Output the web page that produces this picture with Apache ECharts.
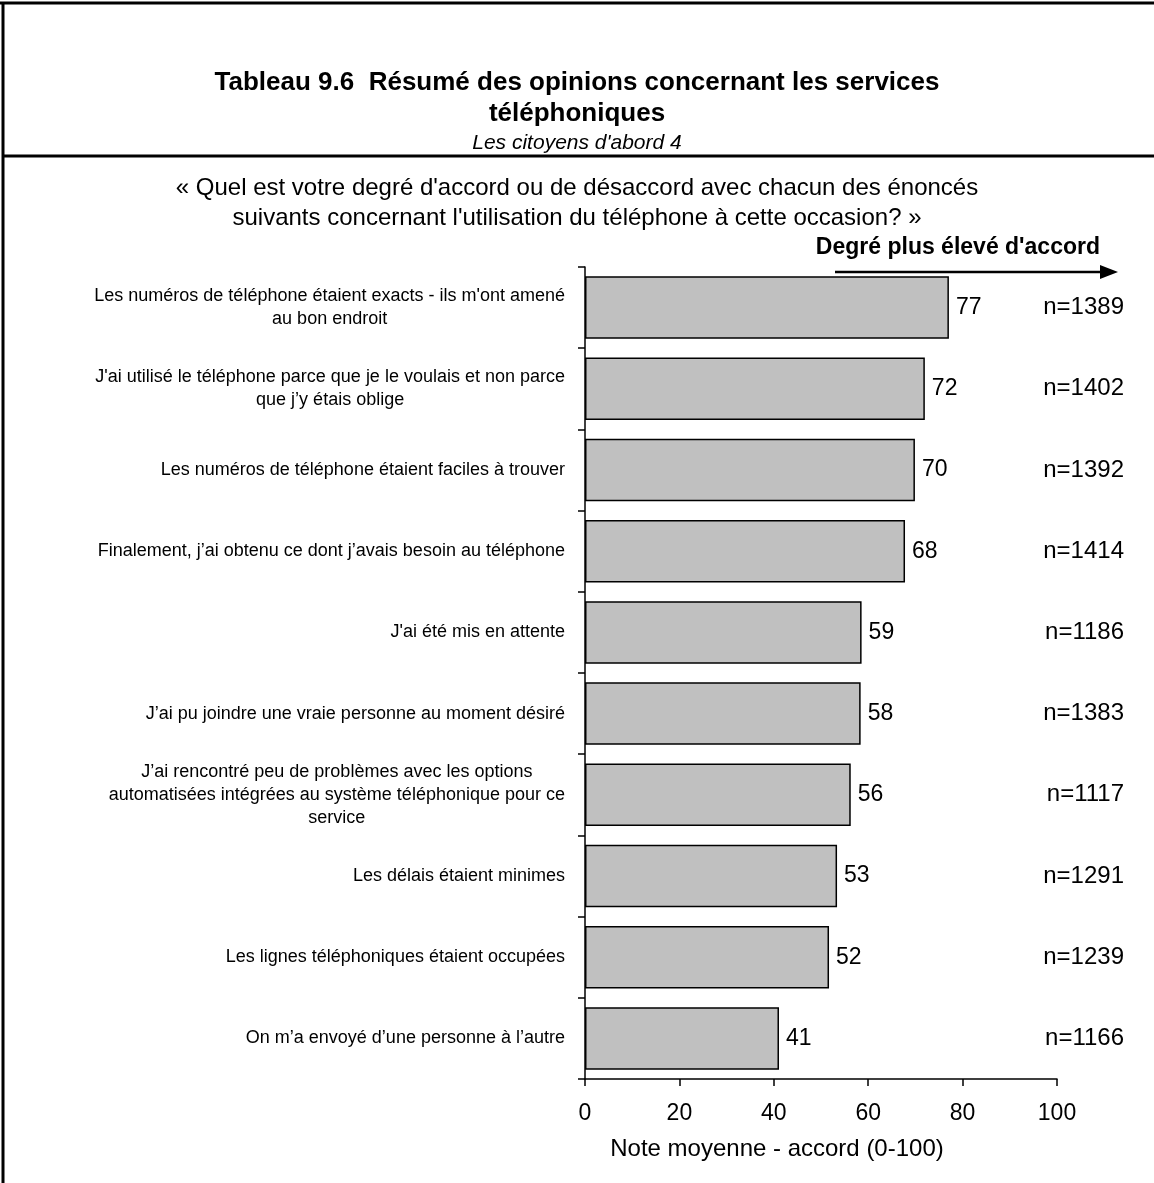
<!DOCTYPE html>
<html>
<head>
<meta charset="utf-8">
<script src="https://cdn.jsdelivr.net/npm/echarts@6/dist/echarts.min.js"></script>
<style>
html,body{margin:0;padding:0;background:#fff;}
#c{width:1154px;height:1183px;}
</style>
</head>
<body>
<div id="c"></div>
<script>
var categories = [
  "Les numéros de téléphone étaient exacts - ils m'ont amené\nau bon endroit",
  "J'ai utilisé le téléphone parce que je le voulais et non parce\nque j’y étais oblige",
  "Les numéros de téléphone étaient faciles à trouver",
  "Finalement, j’ai obtenu ce dont j’avais besoin au téléphone",
  "J'ai été mis en attente",
  "J’ai pu joindre une vraie personne au moment désiré",
  "J’ai rencontré peu de problèmes avec les options\nautomatisées intégrées au système téléphonique pour ce\nservice",
  "Les délais étaient minimes",
  "Les lignes téléphoniques étaient occupées",
  "On m’a envoyé d’une personne à l’autre"
];
var scores = [77.1, 72.0, 69.9, 67.8, 58.6, 58.4, 56.3, 53.4, 51.7, 41.1];
var nLabels = ["n=1389", "n=1402", "n=1392", "n=1414", "n=1186", "n=1383", "n=1117", "n=1291", "n=1239", "n=1166"];
var xTicks = [0, 20, 40, 60, 80, 100];

var FONT = "'Liberation Sans', Arial, sans-serif";
var chart = echarts.init(document.getElementById('c'), null, {renderer: 'canvas'});

var option = {
  backgroundColor: '#fff',
  textStyle: {fontFamily: FONT, color: '#000'},
  animation: false,
  title: [{
    text: 'Tableau 9.6  Résumé des opinions concernant les services\ntéléphoniques',
    left: 'center', top: 62,
    textStyle: {fontFamily: FONT, fontWeight: 'bold', fontSize: 26, lineHeight: 31, color: '#000'},
    subtext: "Les citoyens d'abord 4",
    subtextStyle: {fontFamily: FONT, fontStyle: 'italic', fontSize: 21, lineHeight: 24, color: '#000'},
    itemGap: 2
  }, {
    text: "« Quel est votre degré d'accord ou de désaccord avec chacun des énoncés\nsuivants concernant l'utilisation du téléphone à cette occasion? »",
    left: 'center', top: 168,
    textStyle: {fontFamily: FONT, fontWeight: 'normal', fontSize: 24, lineHeight: 30, color: '#000'}
  }],
  grid: {left: 585, right: 97, top: 267, bottom: 104, containLabel: false},
  xAxis: {
    type: 'value', min: xTicks[0], max: xTicks[xTicks.length - 1], interval: 20,
    axisLine: {show: true, lineStyle: {color: '#000', width: 1.5}},
    axisTick: {show: true, inside: false, length: 7, lineStyle: {color: '#000', width: 1.5}},
    splitLine: {show: false},
    axisLabel: {fontFamily: FONT, fontSize: 23, color: '#000', margin: 23},
    name: 'Note moyenne - accord (0-100)',
    nameLocation: 'middle', nameGap: 58,
    nameTextStyle: {fontFamily: FONT, fontSize: 24, color: '#000', padding: [0, 88, 0, 0]}
  },
  yAxis: [{
    type: 'category', inverse: true, data: categories,
    axisLine: {show: true, lineStyle: {color: '#000', width: 1.5}},
    axisTick: {show: true, inside: false, length: 7, lineStyle: {color: '#000', width: 1.5}},
    axisLabel: {
      margin: 20, color: '#000', fontFamily: FONT, fontSize: 18,
      formatter: function (v) {
        return v.split('\n').map(function (l) { return '{c|' + l + '}'; }).join('\n');
      },
      rich: {c: {align: 'center', fontFamily: FONT, fontSize: 18, lineHeight: 23, color: '#000'}}
    }
  }, {
    type: 'category', inverse: true, data: nLabels, position: 'right',
    axisLine: {show: false}, axisTick: {show: false},
    axisLabel: {align: 'right', margin: 67, fontFamily: FONT, fontSize: 24, color: '#000'}
  }],
  series: [{
    type: 'bar', yAxisIndex: 0, data: scores,
    barCategoryGap: '23%',
    itemStyle: {color: '#c0c0c0', borderColor: '#000', borderWidth: 1.5},
    label: {
      show: true, position: 'right', distance: 7,
      fontFamily: FONT, fontSize: 23, color: '#000',
      formatter: function (p) { return Math.round(p.value); }
    }
  }],
  graphic: [
    {type: 'line', shape: {x1: 0, y1: 3, x2: 1154, y2: 3}, style: {stroke: '#000', lineWidth: 3}},
    {type: 'line', shape: {x1: 3, y1: 2, x2: 3, y2: 1183}, style: {stroke: '#000', lineWidth: 3}},
    {type: 'line', shape: {x1: 2, y1: 156, x2: 1154, y2: 156}, style: {stroke: '#000', lineWidth: 3}},
    {type: 'text', x: 1100, y: 248, style: {text: "Degré plus élevé d'accord", font: 'bold 23px ' + FONT, fill: '#000', textAlign: 'right', textVerticalAlign: 'middle'}},
    {type: 'line', shape: {x1: 835, y1: 272, x2: 1102, y2: 272}, style: {stroke: '#000', lineWidth: 2.5}},
    {type: 'polygon', shape: {points: [[1100, 265], [1118, 272], [1100, 279]]}, style: {fill: '#000'}}
  ]
};
chart.setOption(option);
</script>
</body>
</html>
